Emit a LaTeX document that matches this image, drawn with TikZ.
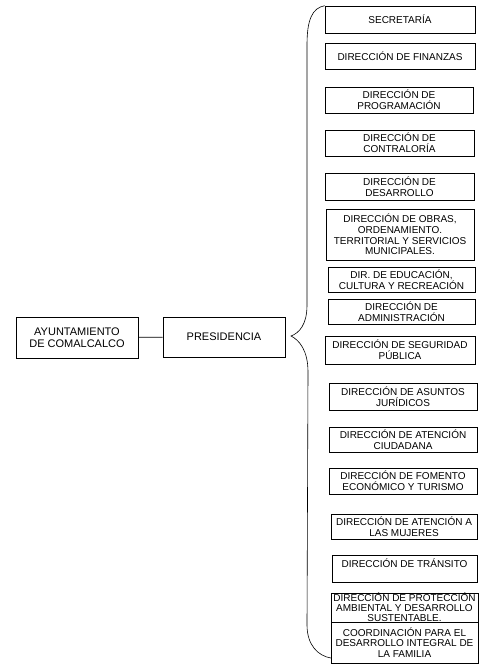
\documentclass[tikz,border=0pt]{standalone}
\usepackage{fontspec}
\setmainfont{Liberation Sans}
\usepackage{xcolor}

\begin{document}
\begin{tikzpicture}[x=1pt,y=-1pt,
        box/.style={draw,line width=0.6pt,align=center,inner sep=0pt,font=\fontsize{10}{10.6}\selectfont},
        top/.style={draw,line width=0.6pt,align=center,inner sep=0.5pt,font=\fontsize{11}{12}\selectfont}]
        \useasboundingbox (0,0) rectangle (479,666);
        \node[top,minimum width=122,minimum height=41](ayu) at (77,337.5) {AYUNTAMIENTO\\DE COMALCALCO};
        \node[top,minimum width=122,minimum height=40](pres) at (224,337) {PRESIDENCIA};
        \node[box,minimum width=150,minimum height=27](sec) at (400,19.5) {SECRETARÍA};
        \node[box,minimum width=150,minimum height=26](fin) at (400,56) {DIRECCIÓN DE FINANZAS};
        \node[box,minimum width=148,minimum height=26](prog) at (399,100) {DIRECCIÓN DE\\PROGRAMACIÓN};
        \node[box,minimum width=149,minimum height=26](cont) at (399.5,143) {DIRECCIÓN DE\\CONTRALORÍA};
        \node[box,minimum width=149,minimum height=27](desa) at (399.5,186.5) {DIRECCIÓN DE\\DESARROLLO};
        \node[box,minimum width=148,minimum height=51](obras) at (400,234.5) {DIRECCIÓN DE OBRAS,\\ORDENAMIENTO.\\TERRITORIAL Y SERVICIOS\\MUNICIPALES.};
        \node[box,minimum width=147,minimum height=25](edu) at (401.5,279.5) {DIR. DE EDUCACIÓN,\\CULTURA Y RECREACIÓN};
        \node[box,minimum width=147,minimum height=25](adm) at (401.5,311.5) {DIRECCIÓN DE\\ADMINISTRACIÓN};
        \node[box,minimum width=150,minimum height=28](seg) at (400,350) {DIRECCIÓN DE SEGURIDAD\\PÚBLICA};
        \node[box,minimum width=148,minimum height=27](jur) at (403,396.5) {DIRECCIÓN DE ASUNTOS\\JURÍDICOS};
        \node[box,minimum width=148,minimum height=25](ciud) at (403,439.5) {DIRECCIÓN DE ATENCIÓN\\CIUDADANA};
        \node[box,minimum width=148,minimum height=26](fom) at (403,481) {DIRECCIÓN DE FOMENTO\\ECONÓMICO Y TURISMO};
        \node[box,minimum width=146,minimum height=25](muj) at (404,526.5) {DIRECCIÓN DE ATENCIÓN A\\LAS MUJERES};
        \node[box,minimum width=145,minimum height=27](tran) at (404.5,568.5) {DIRECCIÓN DE TRÁNSITO\\\mbox{}};
        \node[box,minimum width=147,minimum height=29,font=\fontsize{10}{9.8}\selectfont](amb) at (404.5,607.5) {DIRECCIÓN DE PROTECCIÓN\\AMBIENTAL Y DESARROLLO\\SUSTENTABLE.};
        \node[box,minimum width=147,minimum height=41](fam) at (404.5,642.5) {COORDINACIÓN PARA EL\\DESARROLLO INTEGRAL DE\\LA FAMILIA};
        \coordinate(tip) at (291,336);
        \coordinate(end) at (331,658);
        \draw[line width=0.6pt](ayu)--(pres);
        \draw[line width=0.6pt](sec.north west) .. controls (312,8) and (307,20) .. (307,45) -- (307,305)
                .. controls (307,325) and (299,333) .. (tip)
                .. controls (299,340) and (308,350) .. (308,372) -- (307,625)
                .. controls (307,645) and (318,656) .. (end);
        \end{tikzpicture}
\end{document}
